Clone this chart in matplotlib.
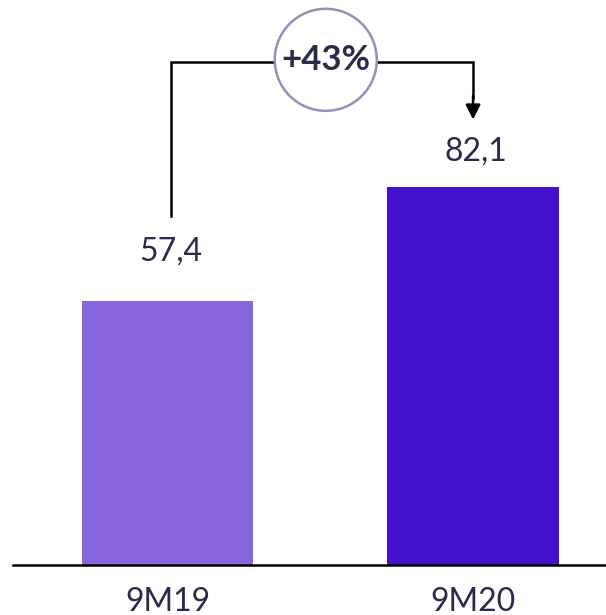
import matplotlib
matplotlib.use('Agg')
import matplotlib.pyplot as plt
from matplotlib.patches import Ellipse

categories = ['9M19', '9M20']
values = [57.4, 82.1]
growth_label = '+43%'

bar_colors = ['#8766DC', '#4411CC']
text_color = '#2B2A4C'
label_offsets = [10.8, 7.7]

plt.rcParams['font.family'] = ['Lato', 'DejaVu Sans']

fig = plt.figure(figsize=(6.06, 6.15), dpi=100)
ax = fig.add_axes([0, 0, 1, 1])
ax.axis('off')

# pixel scale: 305.5 px per category, 4.6 px per unit
ax.set_xlim(-0.548, 1.435)
ax.set_ylim(-10.87, 122.8)

x = list(range(len(categories)))
ax.bar(x, values, width=0.56, color=bar_colors, zorder=2)
ax.plot([-0.506, 1.435], [0, 0], color='black', lw=1.8, zorder=3)

for xi, v, c, off in zip(x, values, categories, label_offsets):
    ax.text(xi + 0.01, v + off, f'{v:.1f}'.replace('.', ','), ha='center', va='center',
            fontsize=23, color=text_color)
    ax.text(xi, -8.0, c, ha='center', va='center', fontsize=23, color=text_color)

# growth bracket
y_top = 109.3
ax.plot([0.013, 0.013, 1.0, 1.0], [values[0] + 18.5, y_top, y_top, 101.5],
        color='black', lw=1.8, zorder=1, solid_joinstyle='miter')
ax.annotate('', xy=(1.0, 96.8), xytext=(1.0, 102.0),
            arrowprops=dict(arrowstyle='-|>', color='black', lw=1.8,
                            mutation_scale=22, shrinkA=0, shrinkB=0))
ax.add_patch(Ellipse((0.518, 109.8), 102 / 305.5, 102 / 4.6, facecolor='white',
                     edgecolor='#9B8DBA', lw=1.8, zorder=4))
ax.text(0.518, 109.8, growth_label, ha='center', va='center', fontsize=25,
        fontweight='bold', color=text_color, zorder=5)

fig.savefig('out.png', dpi=100)
